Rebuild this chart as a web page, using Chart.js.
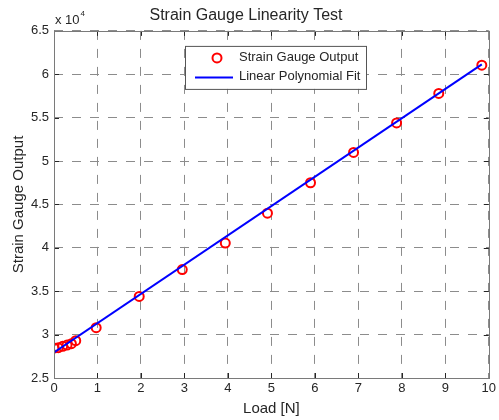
<!DOCTYPE html>
<html>
<head>
<meta charset="utf-8">
<script src="https://cdn.jsdelivr.net/npm/chart.js@4"></script>
<style>
  html, body { margin:0; padding:0; background:#fff; }
  #wrap { width:499px; height:420px; position:relative; }
</style>
</head>
<body>
<div id="wrap"><canvas id="chart"></canvas></div>
<script>
// measured load [N] vs raw gauge counts
const loadN   = [0, 0.1, 0.2, 0.3, 0.4, 0.5, 0.97, 1.96, 2.95, 3.94, 4.91, 5.9, 6.89, 7.88, 8.85, 9.84];
const gaugeOut = [28450, 28500, 28650, 28800, 28950, 29300, 30800, 34400, 37500, 40550, 44000, 47500,
                  51000, 54400, 57800, 61050];
// first-order fit, evaluated at the ends of the load range
const fitLoad = [0, 9.84];
const fitOut  = [27950, 61150];

const xTicks = [0, 1, 2, 3, 4, 5, 6, 7, 8, 9, 10];
const yTicks = [25000, 30000, 35000, 40000, 45000, 50000, 55000, 60000, 65000];

const FONT = '"Liberation Sans", Arial, Helvetica, sans-serif';
const INK = '#262626';

// matlab-ish frame: solid box, inward ticks on all four sides, exponent note
const framePlugin = {
  id: 'frame',
  afterDatasetsDraw(chart) {
    const { ctx, chartArea: a, scales: { x, y } } = chart;
    ctx.save();
    ctx.strokeStyle = INK;
    ctx.lineWidth = 1;
    ctx.beginPath();
    xTicks.forEach(v => {
      const px = Math.round(x.getPixelForValue(v)) + 0.5;
      ctx.moveTo(px, a.bottom); ctx.lineTo(px, a.bottom - 5);
      ctx.moveTo(px, a.top);    ctx.lineTo(px, a.top + 5);
    });
    yTicks.forEach(v => {
      const py = Math.round(y.getPixelForValue(v)) + 0.5;
      ctx.moveTo(a.left, py);  ctx.lineTo(a.left + 5, py);
      ctx.moveTo(a.right, py); ctx.lineTo(a.right - 5, py);
    });
    ctx.stroke();
    ctx.strokeStyle = '#7a7a7a';
    ctx.strokeRect(Math.round(a.left) + 0.5, Math.round(a.top) + 0.5,
                   Math.round(a.right - a.left), Math.round(a.bottom - a.top));

    ctx.fillStyle = INK;
    ctx.textBaseline = 'alphabetic';
    ctx.textAlign = 'left';
    ctx.font = '13px ' + FONT;
    ctx.fillText('x 10', a.left + 1, a.top - 7);
    const w = ctx.measureText('x 10').width;
    ctx.font = '8px ' + FONT;
    ctx.fillText('4', a.left + 2 + w, a.top - 15);
    ctx.restore();
  },
  afterDraw(chart) {
    // legend box inside the axes
    const { ctx, chartArea: a } = chart;
    const ds = chart.data.datasets;
    const bx = a.left + 131, by = a.top + 15, bw = 181, bh = 43;
    ctx.save();
    ctx.fillStyle = '#fff';
    ctx.fillRect(bx, by, bw, bh);
    ctx.strokeStyle = '#555';
    ctx.lineWidth = 1;
    ctx.strokeRect(bx + 0.5, by + 0.5, bw, bh);
    ctx.font = '13px ' + FONT;
    ctx.fillStyle = INK;
    ctx.textBaseline = 'middle';
    ctx.textAlign = 'left';

    ctx.beginPath();
    ctx.strokeStyle = ds[0].borderColor;
    ctx.lineWidth = ds[0].borderWidth;
    ctx.arc(bx + 32, by + 12, ds[0].pointRadius, 0, Math.PI * 2);
    ctx.stroke();
    ctx.fillText(ds[0].label, bx + 54, by + 12);

    ctx.beginPath();
    ctx.strokeStyle = ds[1].borderColor;
    ctx.lineWidth = ds[1].borderWidth;
    ctx.moveTo(bx + 10, by + 31.5);
    ctx.lineTo(bx + 48, by + 31.5);
    ctx.stroke();
    ctx.fillText(ds[1].label, bx + 54, by + 31);
    ctx.restore();
  }
};

const gridDash = { dash: [9, 9], display: false };

new Chart(document.getElementById('chart'), {
  type: 'scatter',
  data: {
    datasets: [
      {
        label: 'Strain Gauge Output',
        data: loadN.map((v, i) => ({ x: v, y: gaugeOut[i] })),
        pointRadius: 4.5,
        pointHoverRadius: 4.5,
        borderColor: '#ff0000',
        backgroundColor: 'rgba(0,0,0,0)',
        borderWidth: 2,
        pointBorderWidth: 2,
        order: 1
      },
      {
        label: 'Linear Polynomial Fit',
        data: fitLoad.map((v, i) => ({ x: v, y: fitOut[i] })),
        showLine: true,
        pointRadius: 0,
        borderColor: '#0000ff',
        borderWidth: 2,
        fill: false,
        order: 0
      }
    ]
  },
  plugins: [framePlugin],
  options: {
    responsive: true,
    maintainAspectRatio: false,
    animation: false,
    devicePixelRatio: 1,
    layout: { padding: { left: 0, right: 7, top: 0, bottom: 0 } },
    plugins: {
      legend: { display: false },
      tooltip: { enabled: false },
      title: {
        display: true,
        text: 'Strain Gauge Linearity Test',
        color: INK,
        font: { family: FONT, size: 16, weight: 'normal', lineHeight: 1.15 },
        padding: { top: 6, bottom: 6.5 }
      }
    },
    scales: {
      x: {
        type: 'linear',
        min: 0, max: 10,
        afterBuildTicks: s => { s.ticks = xTicks.map(v => ({ value: v })); },
        afterFit: s => { s.height = 42; },
        grid: { color: '#8c8c8c', lineWidth: 1, drawTicks: false },
        border: gridDash,
        ticks: { color: INK, padding: 3, font: { family: FONT, size: 13 }, maxRotation: 0 },
        title: {
          display: true, text: 'Load [N]', color: INK,
          font: { family: FONT, size: 15 }, padding: { top: 0, bottom: 2 }
        }
      },
      y: {
        type: 'linear',
        min: 25000, max: 65000,
        afterBuildTicks: s => { s.ticks = yTicks.map(v => ({ value: v })); },
        afterFit: s => { s.width = 54; },
        grid: { color: '#8c8c8c', lineWidth: 1, drawTicks: false },
        border: gridDash,
        ticks: {
          color: INK, padding: 5, font: { family: FONT, size: 13 },
          callback: v => String(v / 10000)
        },
        title: {
          display: true, text: 'Strain Gauge Output', color: INK,
          font: { family: FONT, size: 15 }, padding: { top: 10, bottom: 0 }
        }
      }
    }
  }
});
</script>
</body>
</html>
